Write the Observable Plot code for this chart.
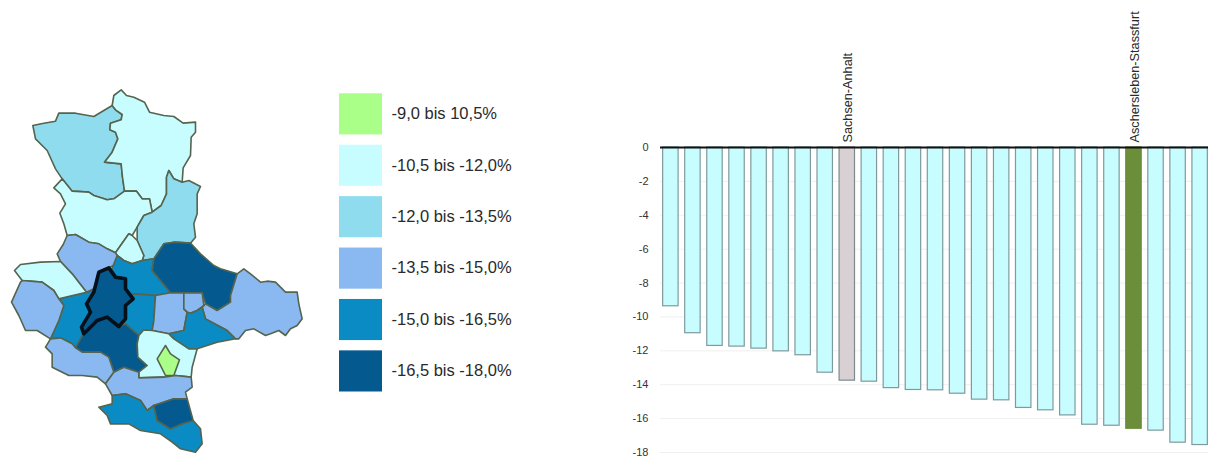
<!DOCTYPE html>
<html lang="de">
<head>
<meta charset="utf-8">
<script src="https://cdn.jsdelivr.net/npm/d3@7"></script>
<script src="https://cdn.jsdelivr.net/npm/@observablehq/plot@0.6"></script>
<style>
html,body{margin:0;padding:0;background:#fff;overflow:hidden;width:1208px;height:462px;position:relative}
.p{position:absolute}
svg{font-family:"Liberation Sans",Arial,sans-serif;overflow:hidden}
#map svg{filter:blur(.35px)}
</style>
</head>
<body>
<div id="map" class="p" style="left:0;top:80px"></div>
<div id="legend" class="p" style="left:330px;top:0"></div>
<div id="bars" class="p" style="left:620px;top:0"></div>
<script>
// classes
const classLabels = ["-9,0 bis 10,5%","-10,5 bis -12,0%","-12,0 bis -13,5%","-13,5 bis -15,0%","-15,0 bis -16,5%","-16,5 bis -18,0%"];
const classColors = ["#aaff88","#c8fdff","#8fdcef","#8ab8f0","#0b8bc4","#04598f"];

// bar chart values (percent)
const barValues = [-9.37,-10.96,-11.71,-11.75,-11.87,-12.03,-12.26,-13.29,-13.76,-13.82,-14.2,-14.31,-14.33,-14.53,-14.88,-14.92,-15.37,-15.51,-15.81,-16.36,-16.42,-16.6,-16.71,-17.42,-17.56];
const barKinds = ["k","k","k","k","k","k","k","k","land","k","k","k","k","k","k","k","k","k","k","k","k","kreis","k","k","k"];
const barLabels = {land:"Sachsen-Anhalt", kreis:"Aschersleben-Stassfurt"};
const kindDomain = ["k","land","kreis"];
const kindFills = ["#c8fdff","#d9d0d3","#6b8e3a"];
const kindStrokes = ["#7f9a9e","#7d8a8c","#6b8e3a"];
const yTicks = [0,-2,-4,-6,-8,-10,-12,-14,-16,-18];

// map outlines, traced in units of a third of a pixel: [x,y, x,y, ...]
const nwKreis = [97,135,130,128,165,122,175,98,225,98,280,108,335,75,345,88,365,102,362,118,330,128,328,148,345,155,352,175,335,215,312,245,362,250,366,290,372,332,340,355,320,358,280,345,265,335,215,332,185,295,165,265,140,210,105,175];
const nKreis = [335,75,340,45,362,28,378,45,400,50,432,65,447,95,490,105,520,108,548,128,585,125,585,155,572,170,570,225,548,262,545,305,520,295,505,270,498,290,498,340,482,375,455,395,447,355,425,355,408,332,372,332,366,290,362,250,312,245,335,215,352,175,345,155,328,148,330,128,362,118,365,102,345,88];
const boerde = [185,295,215,332,265,335,280,345,320,358,340,355,372,332,408,332,425,355,447,355,455,395,430,405,410,440,395,465,385,460,345,517,320,505,295,490,265,485,225,462,200,465,190,430,178,398,195,370,180,340,160,322];
const jerichow = [498,340,498,290,505,270,520,295,545,305,565,300,600,318,590,340,590,400,580,430,585,470,570,488,520,485,490,490,460,535,425,540,430,525,410,480,410,440,430,405,455,395,482,375];
const magdeburg = [385,460,395,465,410,480,430,525,425,540,395,550,370,540,350,525,345,517];
const saleW = [175,655,258,635,300,625,300,700,250,790,225,802,215,790,180,772,150,775,175,720,190,675];
const saleNE = [338,555,350,525,370,540,395,550,425,540,460,535,455,570,510,637,465,645,400,640,360,660,320,600];
const saleE = [398,640,465,645,460,720,455,750,415,765,375,730,350,700,360,660];
const ohre = [200,465,225,462,265,485,295,490,320,505,345,517,350,525,338,555,320,565,295,575,280,625,258,635,215,580,180,543,170,520,188,492];
const westLight = [42,570,60,552,120,545,180,543,215,580,258,635,175,655,160,630,125,605,65,600];
const harz = [33,665,60,605,65,600,125,605,160,630,175,655,190,675,175,720,150,775,110,750,75,750,55,705];
const darkCentre = [245,765,290,720,320,710,355,738,375,730,415,765,410,790,412,830,440,855,415,875,370,860,340,875,325,830,300,815,245,815,225,802];
const darkEast = [460,535,490,490,520,485,570,488,600,520,640,555,660,565,710,580,690,645,690,665,650,690,615,670,605,637,550,637,510,637,455,570];
const wittenberg = [710,580,730,565,750,580,780,605,800,602,825,605,855,635,890,635,895,670,905,715,890,735,870,745,855,765,835,750,810,760,795,765,760,745,735,750,715,775,705,775,680,750,615,715,605,680,610,675,615,670,650,690,690,665,690,645];
const midBlue = [465,645,510,637,550,637,550,685,560,695,550,750,505,760,455,750,460,720];
const smallBlue = [550,637,605,637,610,675,590,690,570,698,560,695,550,685];
const bitterfeld = [560,695,570,698,590,690,605,680,615,715,680,750,705,775,650,785,590,805,565,805,520,775,505,760,550,750];
const saalkreis = [415,765,430,748,455,750,505,760,520,775,565,805,590,805,575,860,572,890,525,885,490,890,415,892,415,875,440,855,412,830,410,790];
const halle = [495,795,510,820,537,838,520,885,495,885,470,835];
const mansfeld = [150,775,135,800,155,820,155,860,205,885,245,885,290,890,315,910,340,875,325,830,300,815,245,815,225,802,215,790,180,772];
const merseburg = [315,910,340,875,370,860,415,875,415,892,490,890,525,885,572,890,575,920,555,935,560,955,520,955,460,975,440,990,420,960,375,940,335,945];
const burgenland = [295,980,335,970,335,945,375,940,420,960,440,990,460,975,470,1020,510,1045,545,1030,578,1020,600,1045,605,1090,585,1115,540,1105,515,1085,480,1060,420,1050,385,1030,330,1030,320,1005];
const southDark = [460,975,520,955,560,955,578,1020,545,1030,510,1045,470,1020];
const blackOutline = [295,575,325,562,345,590,375,595,375,625,398,655,375,675,375,715,355,738,320,710,290,720,250,760,243,740,270,695,258,670,280,635];

const shapes = [
  ["nw",nwKreis,2],["n",nKreis,1],["b",boerde,1],["j",jerichow,2],["m",magdeburg,1],
  ["sw",saleW,4],["sne",saleNE,4],["se",saleE,4],["o",ohre,3],["wl",westLight,1],["h",harz,3],
  ["dc",darkCentre,5],["de",darkEast,5],["w",wittenberg,3],["mb",midBlue,3],["sb",smallBlue,3],
  ["bi",bitterfeld,4],["sa",saalkreis,1],["ha",halle,0],["ma",mansfeld,3],["me",merseburg,3],
  ["bu",burgenland,4],["sd",southDark,5]
];
const rows = (list) => list.flatMap(([id,c,k]) => d3.range(0,c.length,2).map(i => ({id, x:c[i], y:c[i+1], cls:classLabels[k]})));
const color = {type:"ordinal", domain:classLabels, range:classColors};

const mapRows = rows(shapes);
const outlineRows = d3.range(0,blackOutline.length,2).map(i => ({x:blackOutline[i], y:blackOutline[i+1], cls:classLabels[5]}));

document.getElementById("map").append(Plot.plot({
  width:310, height:382, margin:0,
  x:{domain:[0,930], range:[0,310], axis:null},
  y:{domain:[0,1146], range:[0,382], axis:null},
  color,
  marks:[
    Plot.line(mapRows,{x:"x",y:"y",z:"id",fill:"cls",stroke:"#55644e",strokeWidth:1.6,curve:"linear-closed",strokeLinejoin:"round"}),
    Plot.line(outlineRows,{x:"x",y:"y",fill:"cls",stroke:"#06101a",strokeWidth:3.6,curve:"linear-closed",strokeLinejoin:"round"})
  ]
}));

document.getElementById("legend").append(Plot.plot({
  width:200, height:462, margin:0,
  x:{domain:["c"], range:[9,52], padding:0, round:false, axis:null},
  y:{domain:classLabels, range:[93.3,391.5], paddingInner:0.2, paddingOuter:0, round:false, axis:null},
  color,
  marks:[
    Plot.cell(classLabels,{x:()=>"c",y:d=>d,fill:d=>d}),
    Plot.text(classLabels,{y:d=>d,text:d=>d,frameAnchor:"left",dx:61,dy:-0.5,fontSize:16.5,fill:"#2a2a2a"})
  ]
}));

const barRows = barValues.map((v,i)=>({i,v,kind:barKinds[i]}));
document.getElementById("bars").append(Plot.plot({
  width:588, height:462, marginTop:147, marginBottom:10, marginLeft:40, marginRight:0,
  x:{type:"band", domain:d3.range(barValues.length), range:[40,590], paddingInner:0.3, paddingOuter:0.12, round:false, axis:null},
  y:{domain:[-18,0], axis:null},
  color:{type:"ordinal", domain:kindDomain, range:kindFills},
  marks:[
    Plot.ruleY(yTicks.slice(1),{stroke:"#efefef",strokeWidth:1}),
    Plot.barY(barRows.filter(d=>d.kind==="k"),{x:"i",y1:0,y2:"v",fill:"kind",stroke:kindStrokes[0],strokeWidth:1.2}),
    Plot.barY(barRows.filter(d=>d.kind==="land"),{x:"i",y1:0,y2:"v",fill:"kind",stroke:kindStrokes[1],strokeWidth:1.2}),
    Plot.barY(barRows.filter(d=>d.kind==="kreis"),{x:"i",y1:0,y2:"v",fill:"kind",stroke:kindStrokes[2],strokeWidth:1.2}),
    Plot.ruleY([0],{stroke:"#111",strokeWidth:2}),
    Plot.axisY({ticks:yTicks,tickSize:0,tickPadding:12,tickFormat:d=>String(d),fontSize:11,fill:"#333",label:null}),
    Plot.text(barRows.filter(d=>barLabels[d.kind]),{x:"i",y:()=>0,text:d=>barLabels[d.kind],rotate:-90,textAnchor:"start",dy:-5,dx:0.5,fontSize:12.7,fill:"#2a2a2a"})
  ]
}));
</script>
</body>
</html>
